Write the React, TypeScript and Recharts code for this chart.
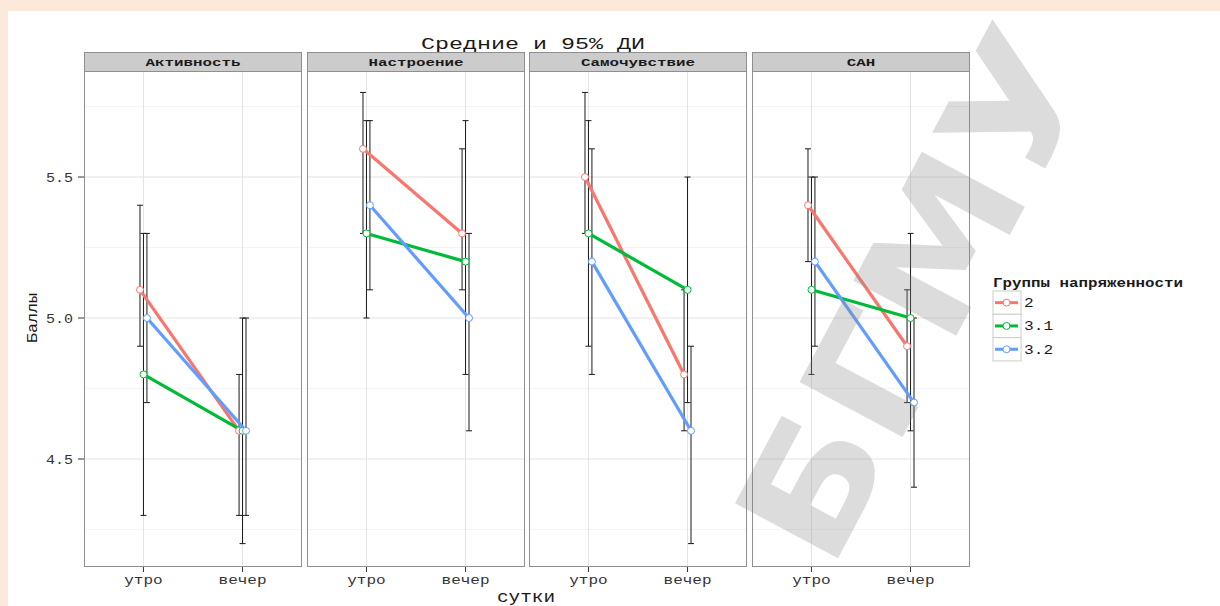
import { LineChart, Line, XAxis, YAxis, ErrorBar, ReferenceLine } from "recharts";

// панели (фасеты), время суток, группы
const panels = ["Активность", "Настроение", "Самочувствие", "САН"];
const periods = ["утро", "вечер"];
const groups = ["2", "3.1", "3.2"];
const colors = ["#F8766D", "#00BA38", "#619CFF"];

// средние по панелям: [утро, вечер]
const mean2 = [[5.1, 4.6], [5.6, 5.3], [5.5, 4.8], [5.4, 4.9]];
const mean31 = [[4.8, 4.6], [5.3, 5.2], [5.3, 5.1], [5.1, 5.0]];
const mean32 = [[5.0, 4.6], [5.4, 5.0], [5.2, 4.6], [5.2, 4.7]];

// нижняя граница 95% ДИ
const low2 = [[4.9, 4.3], [5.3, 5.1], [5.3, 4.6], [5.2, 4.7]];
const low31 = [[4.3, 4.2], [5.0, 4.8], [4.9, 4.7], [4.8, 4.6]];
const low32 = [[4.7, 4.3], [5.1, 4.6], [4.8, 4.2], [4.9, 4.4]];

// верхняя граница 95% ДИ
const high2 = [[5.4, 4.8], [5.8, 5.6], [5.8, 5.1], [5.6, 5.1]];
const high31 = [[5.3, 5.0], [5.7, 5.7], [5.7, 5.5], [5.5, 5.3]];
const high32 = [[5.3, 5.0], [5.7, 5.3], [5.6, 4.9], [5.5, 5.0]];

const yTicks = [4.5, 5.0, 5.5];
const yMinor = [4.25, 4.75, 5.25, 5.75];

const means = [mean2, mean31, mean32];
const lows = [low2, low31, low32];
const highs = [high2, high31, high32];

const dodge = [-0.035, 0, 0.035];
const Y_DOMAIN = [4.117, 5.876];
const FONT = "'Liberation Mono', 'DejaVu Sans Mono', monospace";

const PANEL_TOP = 71;
const PANEL_H = 496;
const PANEL_W = 218;
const panelLeft = (i: number) => 84 + i * 222.7;

function seriesData(p: number, g: number) {
  return periods.map((_, i) => {
    const m = means[g][p][i];
    return {
      x: i + 1 + dodge[g],
      y: m,
      err: [m - lows[g][p][i], highs[g][p][i] - m],
    };
  });
}

const XTick = ({ x, y, payload }: any) => {
  const label = periods[payload.value - 1] ?? "";
  return (
    <text x={x} y={y} dy={10} textAnchor="middle" fontFamily={FONT} fontSize={13} fill="#333"
      textLength={label.length * 9.6} lengthAdjust="spacingAndGlyphs">
      {label}
    </text>
  );
};

const YTick = ({ x, y, payload }: any) => {
  const label = Number(payload.value).toFixed(1);
  return (
    <text x={x - 3} y={y} dy={4.5} textAnchor="end" fontFamily={FONT} fontSize={13} fill="#333"
      textLength={27} lengthAdjust="spacingAndGlyphs">
      {label}
    </text>
  );
};

function Panel({ p }: { p: number }) {
  const first = p === 0;
  const yw = first ? 50 : 0;
  const left = panelLeft(p) - yw;
  return (
    <div style={{ position: "absolute", left, top: PANEL_TOP }}>
      <LineChart width={PANEL_W + yw} height={PANEL_H + 30} margin={{ top: 0, right: 0, bottom: 0, left: 0 }}>
        <XAxis type="number" dataKey="x" domain={[0.4, 2.6]} ticks={[1, 2]} allowDataOverflow
          axisLine={false} tickLine={{ stroke: "#333" }} tickSize={5} height={30} tick={<XTick />} />
        <YAxis type="number" domain={Y_DOMAIN} allowDataOverflow ticks={yTicks} hide={!first}
          width={yw} axisLine={false} tickLine={{ stroke: "#333" }} tickSize={6} tick={<YTick />} />
        {yMinor.map((v) => (
          <ReferenceLine key={"n" + v} y={v} stroke="#f4f4f4" strokeWidth={1} />
        ))}
        {yTicks.map((v) => (
          <ReferenceLine key={"m" + v} y={v} stroke="#e3e3e3" strokeWidth={1} />
        ))}
        {[1, 2].map((v) => (
          <ReferenceLine key={"v" + v} x={v} stroke="#e3e3e3" strokeWidth={1} />
        ))}
        {groups.map((g, gi) => (
          <Line key={"e" + g} data={seriesData(p, gi)} dataKey="y" stroke="none" dot={false}
            activeDot={false} isAnimationActive={false} legendType="none">
            <ErrorBar dataKey="err" direction="y" width={3} stroke="#1a1a1a" strokeWidth={1}
              isAnimationActive={false} />
          </Line>
        ))}
        {groups.map((g, gi) => (
          <Line key={"l" + g} data={seriesData(p, gi)} dataKey="y" stroke={colors[gi]} strokeWidth={3.2}
            dot={{ r: 3.5, fill: "#fff", stroke: colors[gi], strokeWidth: 1 }}
            activeDot={false} isAnimationActive={false} />
        ))}
      </LineChart>
      {/* рамка панели */}
      <div style={{ position: "absolute", left: yw, top: 0, width: PANEL_W, height: PANEL_H,
        border: "1px solid #8f8f8f", boxSizing: "border-box", pointerEvents: "none" }} />
      {/* заголовок фасета */}
      <div style={{ position: "absolute", left: yw, top: -19, width: PANEL_W, height: 20,
        background: "#cccccc", border: "1px solid #8f8f8f", boxSizing: "border-box" }}>
        <svg width={PANEL_W - 2} height={18} style={{ display: "block" }}>
          <text x={(PANEL_W - 2) / 2} y={13} textAnchor="middle" fontFamily={FONT} fontSize={11}
            fontWeight="bold" fill="#1a1a1a" textLength={panels[p].length * 9.5}
            lengthAdjust="spacingAndGlyphs">
            {panels[p]}
          </text>
        </svg>
      </div>
    </div>
  );
}

function Legend() {
  const rowH = 23.3;
  return (
    <svg width={230} height={110} style={{ position: "absolute", left: 985, top: 270 }}>
      <text x={8} y={17} fontFamily={FONT} fontSize={12} fontWeight="bold" fill="#1a1a1a"
        textLength={190} lengthAdjust="spacingAndGlyphs">
        Группы напряженности
      </text>
      {groups.map((g, gi) => {
        const top = 21 + gi * rowH;
        const cy = top + rowH / 2;
        return (
          <g key={g}>
            <rect x={8} y={top} width={28} height={rowH} fill="#fff" stroke="#cccccc" />
            <line x1={10} y1={cy} x2={33} y2={cy} stroke={colors[gi]} strokeWidth={3} />
            <circle cx={21.5} cy={cy} r={3.5} fill="#fff" stroke={colors[gi]} strokeWidth={1} />
            <text x={39} y={cy + 4.5} fontFamily={FONT} fontSize={13} fill="#1a1a1a"
              textLength={g.length * 9.7} lengthAdjust="spacingAndGlyphs">
              {g}
            </text>
          </g>
        );
      })}
    </svg>
  );
}

export default function App() {
  return (
    <div style={{ position: "absolute", left: 0, top: 0, width: 1220, height: 606, background: "#fde9db", overflow: "hidden" }}>
      <div style={{ position: "absolute", left: 8, top: 11, width: 1212, height: 595, background: "#fff" }} />
      <svg width={1220} height={606} style={{ position: "absolute", left: 0, top: 0 }}>
        <text x={533} y={49} textAnchor="middle" fontFamily={FONT} fontSize={17} fill="#1a1a1a"
          textLength={224} lengthAdjust="spacingAndGlyphs">
          Средние и 95% ДИ
        </text>
        <text x={526} y={602} textAnchor="middle" fontFamily={FONT} fontSize={16} fill="#1a1a1a"
          textLength={58} lengthAdjust="spacingAndGlyphs">
          сутки
        </text>
        <text x={0} y={0} transform="translate(37,318) rotate(-90)" textAnchor="middle" fontFamily={FONT}
          fontSize={15} fill="#1a1a1a" textLength={50} lengthAdjust="spacingAndGlyphs">
          Баллы
        </text>
      </svg>
      {panels.map((_, p) => (
        <Panel key={p} p={p} />
      ))}
      <Legend />
      {/* водяной знак */}
      <svg width={1220} height={606} style={{ position: "absolute", left: 0, top: 0, pointerEvents: "none" }}>
        <text x={0} y={0} transform="translate(915,295) rotate(-62)" textAnchor="middle"
          dominantBaseline="central" fontFamily="'DejaVu Sans', sans-serif" fontWeight="bold"
          fontSize={160} fill="rgba(140,140,140,0.3)" textLength={570} lengthAdjust="spacingAndGlyphs">
          БГМУ
        </text>
      </svg>
    </div>
  );
}
